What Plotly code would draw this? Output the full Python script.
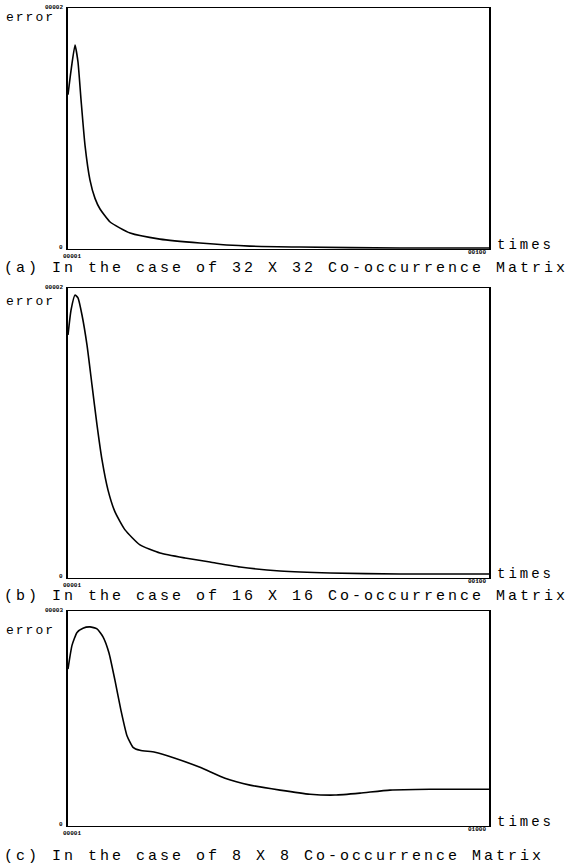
import plotly.graph_objects as go

W, H = 569, 865

# ---- data (normalised error vs iteration) ----
xa = [1, 1.71, 2.65, 3.35, 4.06, 5.0, 6.17, 7.35, 8.53, 10.9, 15.6, 22.6, 32.0, 43.7, 55.5, 79.0, 100]
ya = [0.64, 0.74, 0.846, 0.776, 0.62, 0.43, 0.286, 0.21, 0.166, 0.112, 0.066, 0.041, 0.025, 0.012, 0.008, 0.004, 0.004]

xb = [1, 1.71, 2.65, 3.35, 4.29, 5.47, 6.64, 7.82, 9.0, 10.41, 12.05, 14.41, 17.93, 22.64, 28.52, 34.4, 41.45, 50.86, 62.62, 79.09, 100]
yb = [0.838, 0.924, 0.976, 0.966, 0.907, 0.803, 0.666, 0.528, 0.407, 0.303, 0.228, 0.166, 0.114, 0.086, 0.069, 0.055, 0.038, 0.024, 0.017, 0.014, 0.014]

xc = [1, 10.5, 22.4, 36.6, 53.2, 69.8, 84.1, 98.3, 112.6, 126.8, 141, 155.3, 171.9, 207.5, 254.9, 314.2, 373.6, 432.9, 504.1, 575.3, 634.6, 693.9, 765.1, 860, 1000]
yc = [0.73, 0.84, 0.90, 0.92, 0.926, 0.917, 0.88, 0.805, 0.676, 0.537, 0.42, 0.366, 0.352, 0.343, 0.315, 0.273, 0.222, 0.19, 0.167, 0.148, 0.144, 0.153, 0.167, 0.171, 0.171]

ytop_labels = ["00002", "00002", "00003"]
xleft_labels = ["00001", "00001", "00001"]
xright_labels = ["00100", "00100", "01000"]
captions = ["(a) In the case of 32 X 32 Co-occurrence Matrix",
            "(b) In the case of 16 X 16 Co-occurrence Matrix",
            "(c) In the case of 8 X 8 Co-occurrence Matrix"]

series = [(xa, ya), (xb, yb), (xc, yc)]
xmax = [100, 100, 1000]

# panel pixel boxes: (left, right, top, bottom)
boxes = [(68, 489, 8, 249), (68, 489, 288, 578), (68, 489, 611, 826)]
caption_y = [268, 596, 856]
error_off = [10, 14, 19]

fig = go.Figure()
FONT = "Liberation Mono"

def sp(t, ls):
    return '<span style="letter-spacing:%spx">%s</span>' % (ls, t)

for i, ((x, y), (l, r, t, b)) in enumerate(zip(series, boxes)):
    n = "" if i == 0 else str(i + 1)
    fig.add_trace(go.Scatter(x=x, y=y, mode="lines", line=dict(color="black", width=1.6, shape="spline", smoothing=0.5),
                             xaxis="x" + n, yaxis="y" + n, showlegend=False, hoverinfo="skip"))
    fig.update_layout(**{
        "xaxis" + n: dict(domain=[l / W, r / W], range=[1, xmax[i]], showgrid=False, zeroline=False,
                          showticklabels=False, ticks="", showline=True, linecolor="black", linewidth=1.3,
                          mirror=True, anchor="y" + n, fixedrange=True),
        "yaxis" + n: dict(domain=[1 - b / H, 1 - t / H], range=[0, 1], showgrid=False, zeroline=False,
                          showticklabels=False, ticks="", showline=True, linecolor="black", linewidth=1.6,
                          mirror=True, anchor="x" + n, fixedrange=True),
    })
    ann = [
        dict(text=sp("error", 2), x=4 / W, y=1 - (t + error_off[i]) / H, xanchor="left", yanchor="middle", font=dict(size=13)),
        dict(text="<b>" + ytop_labels[i] + "</b>", x=(l - 3) / W, y=1 - (t - 1) / H, xanchor="right", yanchor="middle", font=dict(size=6)),
        dict(text="<b>0</b>", x=(l - 3) / W, y=1 - (b - 2) / H, xanchor="right", yanchor="middle", font=dict(size=6)),
        dict(text="<b>" + xleft_labels[i] + "</b>", x=(l - 7) / W, y=1 - (b + 7) / H, xanchor="left", yanchor="middle", font=dict(size=6)),
        dict(text="<b>" + xright_labels[i] + "</b>", x=(r - 1) / W, y=1 - (b + 3) / H, xanchor="right", yanchor="middle", font=dict(size=6)),
        dict(text=sp("times", 3), x=(r + 6) / W, y=1 - (b - 4) / H, xanchor="left", yanchor="middle", font=dict(size=14)),
        dict(text=sp(captions[i], 3), x=2 / W, y=1 - caption_y[i] / H, xanchor="left", yanchor="middle", font=dict(size=15)),
    ]
    for a in ann:
        a.update(xref="paper", yref="paper", showarrow=False)
        a["font"].update(family=FONT, color="black")
        fig.add_annotation(**a)

fig.update_layout(width=W, height=H, margin=dict(l=0, r=0, t=0, b=0),
                  paper_bgcolor="white", plot_bgcolor="white")
fig.write_html("out.html", config={"displayModeBar": False})

# remove the browser's default page margin so the figure fills the window
with open("out.html", encoding="utf-8") as f:
    html = f.read()
html = html.replace("<head>", "<head><style>html,body{margin:0;padding:0;overflow:hidden;}</style>", 1)
with open("out.html", "w", encoding="utf-8") as f:
    f.write(html)
